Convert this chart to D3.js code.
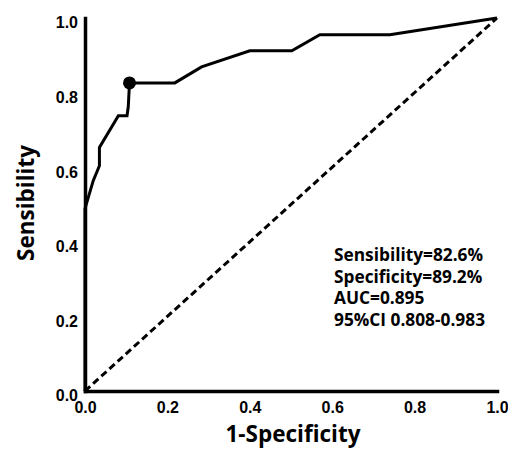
<!DOCTYPE html>
<html>
<head>
<meta charset="utf-8">
<script src="https://cdn.jsdelivr.net/npm/d3@7"></script>
<style>
  body { margin: 0; background: #fff; }
  svg { display: block; }
</style>
</head>
<body>
<svg id="chart" width="508" height="450"></svg>
<script>
// ROC curve points (1-specificity, sensitivity)
const fpr = [0, 0, 0.020, 0.035, 0.035, 0.081, 0.102, 0.105, 0.108, 0.218, 0.283, 0.400, 0.502, 0.570, 0.740, 1.0];
const tpr = [0, 0.489, 0.564, 0.604, 0.653, 0.738, 0.738, 0.762, 0.826, 0.826, 0.869, 0.912, 0.912, 0.955, 0.955, 1.0];
const cutoff = [0.108, 0.826];
const tickValues = [0, 0.2, 0.4, 0.6, 0.8, 1.0];
const tickLabels = ["0.0", "0.2", "0.4", "0.6", "0.8", "1.0"];
const annotations = ["Sensibility=82.6%", "Specificity=89.2%", "AUC=0.895", "95%CI 0.808-0.983"];
const xTitle = "1-Specificity";
const yTitle = "Sensibility";

const svg = d3.select("#chart");
const x = d3.scaleLinear().domain([0, 1]).range([85, 497]);
const y = d3.scaleLinear().domain([0, 1]).range([391, 18]);

// diagonal reference line
svg.append("line")
  .attr("x1", x(0)).attr("y1", y(0))
  .attr("x2", x(1)).attr("y2", y(1))
  .attr("stroke", "#000").attr("stroke-width", 3)
  .attr("stroke-dasharray", "7,4");

// axes
const xAxis = d3.axisBottom(x).tickValues(tickValues)
  .tickFormat((d, i) => tickLabels[i]).tickSize(0).tickPadding(10);
const yAxis = d3.axisLeft(y).tickValues(tickValues)
  .tickFormat((d, i) => tickLabels[i]).tickSize(0).tickPadding(7);

const gx = svg.append("g").attr("transform", `translate(0,${y(0)})`).call(xAxis);
const gy = svg.append("g").attr("transform", `translate(${x(0)},0)`).call(yAxis);
[gx, gy].forEach(g => {
  g.select(".domain").attr("stroke", "#000").attr("stroke-width", 3.5).attr("stroke-linecap", "square");
  g.selectAll("text")
    .attr("font-family", "'Liberation Sans', Arial, sans-serif")
    .attr("font-weight", "bold").attr("font-size", 16).attr("fill", "#000");
});
gy.selectAll("text").attr("dy", "0.62em");
gx.selectAll("text").attr("dy", "0.75em");

// ROC curve
const pts = fpr.map((d, i) => [d, tpr[i]]);
svg.append("path")
  .datum(pts)
  .attr("d", d3.line().x(d => x(d[0])).y(d => y(d[1])))
  .attr("fill", "none").attr("stroke", "#000")
  .attr("stroke-width", 3).attr("stroke-linejoin", "miter");

svg.append("circle")
  .attr("cx", x(cutoff[0])).attr("cy", y(cutoff[1]))
  .attr("r", 6.5).attr("fill", "#000");

// annotation text
const ann = svg.append("g")
  .attr("font-family", "'Open Sans', sans-serif")
  .attr("font-weight", "bold").attr("font-size", 17.3).attr("fill", "#000");
annotations.forEach((t, i) => {
  ann.append("text").attr("x", 334).attr("y", 261 + i * 21.7).text(t);
});

// axis titles
svg.append("text")
  .attr("x", 293).attr("y", 442).attr("text-anchor", "middle")
  .attr("font-family", "'Open Sans', sans-serif")
  .attr("font-weight", "bold").attr("font-size", 22.5).attr("fill", "#000")
  .text(xTitle);
svg.append("text")
  .attr("transform", "translate(34,203) rotate(-90)")
  .attr("text-anchor", "middle")
  .attr("font-family", "'Open Sans', sans-serif")
  .attr("font-weight", "bold").attr("font-size", 22.5).attr("fill", "#000")
  .text(yTitle);
</script>
</body>
</html>
